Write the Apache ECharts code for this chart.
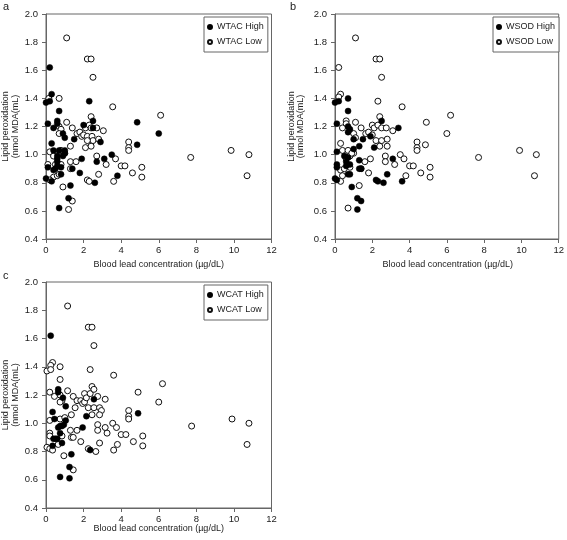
<!DOCTYPE html>
<html>
<head>
<meta charset="utf-8">
<script src="https://cdn.jsdelivr.net/npm/echarts@6/dist/echarts.min.js"></script>
<style>
html,body{margin:0;padding:0;background:#fff;}
#chart{width:567px;height:540px;}
</style>
</head>
<body>
<div id="chart"></div>
<script>
// ---- Data (x = blood lead µg/dL, y = lipid peroxidation nmol MDA/mL) ----
const xTicks = [0, 2, 4, 6, 8, 10, 12];
const yTicks = [0.4, 0.6, 0.8, 1.0, 1.2, 1.4, 1.6, 1.8, 2.0];
const panelLabels = ['a', 'b', 'c'];
const seriesNames = [['WTAC High', 'WTAC Low'], ['WSOD High', 'WSOD Low'], ['WCAT High', 'WCAT Low']];
const xAxisTitle = 'Blood lead concentration (\u00b5g/dL)';
const yAxisTitle1 = 'Lipid peroxidation';
const yAxisTitle2 = '(nmol MDA(mL)';

const aHigh = [[0.2,1.62],[0.3,1.43],[0.0,1.37],[0.2,1.38],[0.7,1.31],[2.3,1.38],[0.1,1.22],[0.6,1.24],[0.6,1.22],[0.4,1.19],[0.9,1.15],[1.0,1.12],[1.5,1.11],[2.0,1.21],[2.5,1.24],[2.5,1.19],[4.85,1.23],[6.0,1.15],[4.85,1.07],[0.3,1.08],[0.4,1.03],[0.7,1.03],[1.0,1.03],[0.6,0.99],[0.6,0.97],[0.9,0.99],[2.9,1.09],[0.1,0.91],[0.0,0.83],[0.3,0.81],[0.4,0.89],[0.5,0.90],[0.6,0.92],[0.8,0.91],[0.8,0.86],[1.4,0.90],[1.9,0.97],[1.8,0.87],[2.7,0.95],[3.1,0.97],[3.5,1.00],[3.8,0.85],[2.6,0.80],[1.3,0.78],[1.2,0.69],[0.7,0.62],[1.0,1.01],[0.6,0.95]];
const aLow = [[1.1,1.83],[2.2,1.68],[2.4,1.68],[2.5,1.55],[0.7,1.40],[0.15,1.40],[3.55,1.34],[6.1,1.28],[2.4,1.27],[1.1,1.23],[0.7,1.20],[0.8,1.18],[1.4,1.19],[0.7,1.15],[1.65,1.15],[1.8,1.16],[1.9,1.13],[2.0,1.14],[2.1,1.19],[2.3,1.21],[2.4,1.19],[2.7,1.19],[3.05,1.17],[2.2,1.13],[2.45,1.13],[2.5,1.10],[2.2,1.10],[2.1,1.05],[2.8,1.11],[2.4,1.06],[1.3,1.06],[1.0,1.01],[0.2,1.02],[0.5,1.00],[4.4,1.09],[4.4,1.05],[4.4,1.03],[2.7,0.99],[3.7,0.97],[4.0,0.92],[4.2,0.92],[3.2,0.93],[0.1,0.93],[1.3,0.95],[1.6,0.95],[1.3,0.90],[5.1,0.91],[5.1,0.84],[4.6,0.87],[2.8,0.86],[3.6,0.81],[2.2,0.82],[2.3,0.81],[0.9,0.77],[1.4,0.67],[1.2,0.61],[0.4,0.84],[0.2,0.82],[0.6,0.85],[0.7,0.86],[0.8,0.93],[0.5,0.93],[7.7,0.98],[9.85,1.03],[10.8,1.00],[10.7,0.85],[0.8,1.03],[0.4,0.99]];

const bHigh = [[0.0,1.37],[0.2,1.38],[0.7,1.40],[0.7,1.31],[0.1,1.22],[0.7,1.20],[0.8,1.18],[0.7,1.16],[2.5,1.24],[1.9,1.13],[1.0,1.11],[3.4,1.19],[0.1,1.02],[0.5,0.99],[0.7,0.98],[1.0,1.04],[1.3,1.06],[2.1,1.05],[0.1,0.93],[0.1,0.91],[0.0,0.83],[0.1,0.82],[0.6,0.92],[0.8,0.93],[0.7,0.86],[0.8,0.86],[1.3,0.96],[1.3,0.90],[1.4,0.90],[0.9,0.77],[2.2,0.82],[2.3,0.81],[2.6,0.80],[2.8,0.86],[3.1,0.97],[3.6,0.81],[1.2,0.69],[1.4,0.67],[1.2,0.61],[1.5,1.11],[0.6,0.95]];
const bLow = [[1.1,1.83],[2.2,1.68],[2.4,1.68],[2.5,1.55],[0.2,1.62],[0.3,1.43],[0.2,1.41],[2.3,1.38],[3.6,1.34],[6.2,1.28],[2.4,1.27],[0.6,1.24],[0.6,1.22],[1.1,1.23],[0.4,1.19],[1.4,1.19],[2.0,1.21],[2.1,1.19],[2.3,1.21],[2.5,1.19],[2.75,1.19],[3.1,1.17],[1.65,1.15],[1.8,1.16],[2.0,1.14],[1.0,1.15],[1.1,1.12],[2.2,1.10],[2.5,1.10],[2.8,1.11],[2.4,1.06],[2.8,1.06],[0.3,1.08],[0.4,1.03],[0.7,1.03],[1.0,1.01],[4.4,1.09],[4.4,1.05],[4.4,1.03],[4.85,1.07],[4.9,1.23],[6.0,1.15],[2.7,0.99],[2.7,0.95],[3.5,1.00],[3.7,0.97],[4.0,0.92],[4.2,0.92],[3.2,0.93],[1.9,0.97],[1.6,0.95],[1.4,0.90],[1.8,0.87],[0.3,0.89],[0.5,0.90],[0.4,0.85],[0.3,0.81],[0.8,0.99],[0.9,1.01],[5.1,0.91],[5.1,0.84],[4.6,0.87],[3.8,0.85],[1.3,0.78],[0.7,0.62],[7.7,0.98],[9.9,1.03],[10.8,1.00],[10.7,0.85],[0.6,0.97],[0.8,0.91]];

const cHigh = [[0.25,1.62],[0.35,1.08],[0.45,1.03],[0.65,1.24],[0.65,1.22],[0.9,1.18],[1.05,1.12],[2.55,1.17],[2.15,1.05],[0.75,0.98],[0.85,0.98],[1.05,1.02],[0.95,0.99],[0.65,0.97],[0.75,0.93],[1.95,0.97],[0.4,0.89],[0.5,0.89],[0.6,0.89],[0.35,0.84],[0.85,0.86],[1.35,0.78],[2.35,0.81],[1.25,0.69],[0.75,0.62],[1.25,0.61],[4.9,1.07]];
const cLow = [[1.15,1.83],[2.25,1.68],[2.45,1.68],[2.55,1.55],[0.35,1.43],[0.25,1.41],[0.05,1.37],[0.25,1.38],[0.75,1.40],[0.75,1.31],[2.35,1.38],[3.6,1.34],[6.2,1.28],[4.9,1.22],[2.45,1.26],[0.2,1.22],[0.45,1.19],[1.15,1.23],[0.75,1.20],[0.85,1.16],[0.75,1.15],[1.45,1.19],[1.65,1.16],[1.85,1.16],[1.95,1.14],[2.05,1.15],[2.05,1.21],[2.15,1.18],[2.35,1.21],[2.55,1.24],[2.75,1.19],[3.15,1.17],[2.25,1.11],[2.55,1.11],[2.85,1.11],[2.95,1.09],[2.45,1.06],[2.85,1.06],[1.35,1.06],[1.55,1.11],[0.2,1.02],[0.75,1.03],[1.0,1.04],[6.0,1.15],[4.4,1.09],[4.4,1.05],[4.4,1.03],[2.75,0.99],[2.75,0.95],[3.55,1.00],[3.75,0.97],[4.0,0.92],[4.25,0.92],[3.15,0.97],[3.25,0.93],[1.65,0.95],[1.3,0.95],[1.35,0.90],[1.45,0.90],[1.85,0.87],[0.2,0.93],[0.2,0.91],[0.05,0.83],[0.2,0.82],[0.35,0.81],[0.65,0.85],[0.85,0.91],[0.95,0.77],[1.45,0.67],[2.25,0.82],[2.65,0.80],[2.85,0.86],[3.6,0.81],[3.8,0.85],[4.65,0.87],[5.15,0.91],[5.15,0.84],[7.75,0.98],[9.9,1.03],[10.8,1.00],[10.7,0.85]];

const panelData = [[aHigh, aLow], [bHigh, bLow], [cHigh, cLow]];

// ---- Layout ----
const FONT = '"Liberation Sans", Arial, sans-serif';
const TXT = '#222';
const AX = '#666';
const panels = [
  { left: 46,  top: 14,  width: 225.5, height: 225, label: [3, 1],   yName: [6, 15.5],  xName: 265 },
  { left: 335, top: 14,  width: 225.5, height: 225, label: [290, 1], yName: [292, 300.5], xName: 265 },
  { left: 46,  top: 282, width: 225.5, height: 226, label: [3, 270], yName: [6, 15.5],  xName: 529 }
];

const grids = [], xAxes = [], yAxes = [], series = [], legends = [], graphics = [];
panels.forEach((p, i) => {
  grids.push({ left: p.left, top: p.top, width: p.width, height: p.height,
    show: true, borderColor: AX, borderWidth: 1, backgroundColor: 'transparent' });
  xAxes.push({ gridIndex: i, type: 'value', min: xTicks[0], max: xTicks[xTicks.length - 1], interval: 2,
    axisLine: { show: true, onZero: false, lineStyle: { color: AX, width: 1 } },
    axisTick: { show: true, inside: false, length: 4, lineStyle: { color: AX } },
    axisLabel: { color: TXT, fontSize: 9.5, fontFamily: FONT, margin: 6 },
    splitLine: { show: false } });
  yAxes.push({ gridIndex: i, type: 'value', min: yTicks[0], max: yTicks[yTicks.length - 1], interval: 0.2,
    axisLine: { show: true, onZero: false, lineStyle: { color: AX, width: 1 } },
    axisTick: { show: true, inside: false, length: 4, lineStyle: { color: AX } },
    axisLabel: { color: TXT, fontSize: 9.5, fontFamily: FONT, margin: 8, formatter: v => v.toFixed(1) },
    splitLine: { show: false } });
  const [hi, lo] = panelData[i];
  const [nHi, nLo] = seriesNames[i];
  series.push({ name: nLo, type: 'scatter', xAxisIndex: i, yAxisIndex: i, data: lo,
    symbol: 'circle', symbolSize: 6,
    itemStyle: { color: '#fff', borderColor: '#111', borderWidth: 1, opacity: 1 }, z: 2 });
  series.push({ name: nHi, type: 'scatter', xAxisIndex: i, yAxisIndex: i, data: hi,
    symbol: 'circle', symbolSize: 6,
    itemStyle: { color: '#000', borderColor: '#000', borderWidth: 0.5, opacity: 1 }, z: 3 });
  legends.push({ data: [nHi, nLo], orient: 'vertical', left: p.left + 158, top: p.top + 3,
    padding: [4, 4, 4, 3], itemGap: 3, itemWidth: 4, itemHeight: 4, icon: 'circle',
    borderColor: AX, borderWidth: 1, backgroundColor: '#fff', selectedMode: false,
    textStyle: { fontSize: 9, color: TXT, fontFamily: FONT, lineHeight: 12 } });
  graphics.push({ type: 'text', x: p.label[0], y: p.label[1],
    style: { text: panelLabels[i], fontSize: 11, fill: TXT, fontFamily: FONT, align: 'left', verticalAlign: 'top' } });
  graphics.push({ type: 'text', x: p.left + p.width / 2, y: p.xName,
    style: { text: xAxisTitle, fontSize: 9, fill: TXT, fontFamily: FONT, align: 'center', verticalAlign: 'middle' } });
  const cy = p.top + p.height / 2;
  graphics.push({ type: 'text', x: p.yName[0], y: cy, rotation: Math.PI / 2,
    style: { text: yAxisTitle1, fontSize: 9, fill: TXT, fontFamily: FONT, align: 'center', verticalAlign: 'middle' } });
  graphics.push({ type: 'text', x: p.yName[1], y: cy, rotation: Math.PI / 2,
    style: { text: yAxisTitle2, fontSize: 9, fill: TXT, fontFamily: FONT, align: 'center', verticalAlign: 'middle' } });
});

const chart = echarts.init(document.getElementById('chart'), null, { renderer: 'canvas' });
chart.setOption({
  animation: false,
  backgroundColor: '#fff',
  textStyle: { fontFamily: FONT },
  grid: grids, xAxis: xAxes, yAxis: yAxes, series: series, legend: legends, graphic: graphics
});
</script>
</body>
</html>
